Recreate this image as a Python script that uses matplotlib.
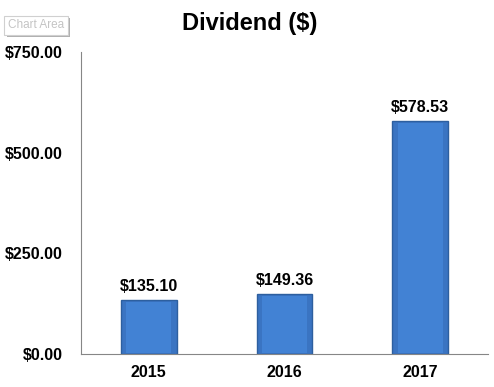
import matplotlib.pyplot as plt

years = ["2015", "2016", "2017"]
dividend = [135.10, 149.36, 578.53]
yticks = [0, 250, 500, 750]

plt.rcParams['font.family'] = ['Liberation Sans', 'DejaVu Sans']
plt.rcParams['font.weight'] = 'bold'

fig = plt.figure(figsize=(4.94, 3.87), dpi=100)
ax = fig.add_axes([0.164, 0.0853, 0.824, 0.7803])

x = range(len(years))
ax.bar(x, dividend, width=0.41, color='#3a74c2', edgecolor='#2d5f9f', linewidth=1.0)
# lighter inner panel to suggest the bevel
ax.bar(x, [d - 8 for d in dividend], width=0.33, bottom=3, color='#4282d4', linewidth=0)

for xi, v in zip(x, dividend):
    ax.text(xi, v + 15, "${:,.2f}".format(v), ha='center', va='bottom',
            fontsize=11.5, fontweight='bold')

ax.set_xlim(-0.5, len(years) - 0.5)
ax.set_ylim(0, 750)
ax.set_yticks(yticks)
ax.set_yticklabels(["${:,.2f}".format(t) for t in yticks], fontsize=11.5, fontweight='bold')
ax.set_xticks(list(x))
ax.set_xticklabels(years, fontsize=11.5, fontweight='bold')
ax.tick_params(axis='y', length=0, pad=13)
ax.tick_params(axis='x', length=0, pad=8)

for s in ['top', 'right']:
    ax.spines[s].set_visible(False)
ax.spines['left'].set_color('#868686')
ax.spines['bottom'].set_color('#868686')

fig.text(0.506, 0.94, "Dividend ($)", ha='center', va='center', fontsize=17, fontweight='bold')

# "Chart Area" tooltip with a small shadow
fig.text(0.0775, 0.929, "Chart Area", ha='center', va='center', fontsize=8.5,
         fontweight='normal', color='#9a9a9a', alpha=0,
         bbox=dict(boxstyle='square,pad=0.3', fc='#b0b0b0', ec='none'))
fig.text(0.073, 0.935, "Chart Area", ha='center', va='center', fontsize=8.5,
         fontweight='normal', color='#c4c4c4',
         bbox=dict(boxstyle='square,pad=0.3', fc='white', ec='#d0d0d0', lw=0.8))

fig.savefig('out.png', dpi=100)
